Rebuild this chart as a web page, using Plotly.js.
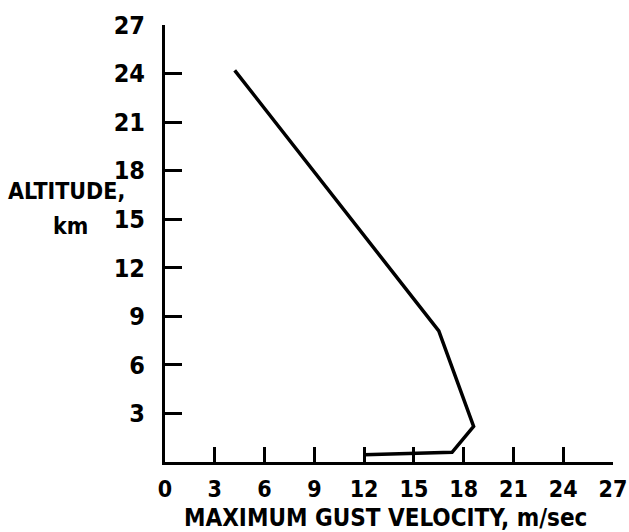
<!DOCTYPE html>
<html>
<head>
<meta charset="utf-8">
<script src="https://cdn.plot.ly/plotly-3.0.1.min.js"></script>
<style>html,body{margin:0;padding:0;background:#fff;}#chart{width:629px;height:532px;}</style>
</head>
<body>
<div id="chart"></div>
<script>
// Data
var gustVelocity = [4.2, 16.5, 18.6, 17.3, 12.0];   // m/sec
var altitude     = [24.2, 8.1, 2.2, 0.6, 0.45];      // km
var xTicks = [0, 3, 6, 9, 12, 15, 18, 21, 24, 27];
var yTicks = [3, 6, 9, 12, 15, 18, 21, 24, 27];

var fontFam = '"DejaVu Sans Condensed", "Liberation Sans Narrow", sans-serif';
var txtFont = function (s) { return {family: fontFam, size: s, color: '#000', weight: 'bold'}; };

var trace = {
  x: gustVelocity,
  y: altitude,
  mode: 'lines',
  line: {color: '#000', width: 3.5},
  hoverinfo: 'none',
  showlegend: false
};

var layout = {
  width: 629, height: 532,
  margin: {l: 165, r: 16, t: 25, b: 70},
  paper_bgcolor: '#fff', plot_bgcolor: '#fff',
  font: {family: fontFam, color: '#000', size: 23},
  xaxis: {
    range: [0, 27], showgrid: false, zeroline: false,
    showline: true, linecolor: '#000', linewidth: 3,
    ticks: 'inside', ticklen: 15, tickwidth: 3, tickcolor: '#000',
    tickvals: xTicks, ticktext: xTicks.map(String),
    tickfont: txtFont(23),
    ticklabelstandoff: 4,
    fixedrange: true
  },
  yaxis: {
    range: [0, 27], showgrid: false, zeroline: false,
    showline: true, linecolor: '#000', linewidth: 3,
    ticks: 'inside', ticklen: 17, tickwidth: 3, tickcolor: '#000',
    tickvals: yTicks, ticktext: yTicks.map(String),
    tickfont: txtFont(25),
    ticklabelstandoff: 12,
    fixedrange: true
  },
  annotations: [
    {text: 'ALTITUDE,', xref: 'paper', yref: 'paper', x: -0.219, y: (462 - 191) / 437,
     xanchor: 'center', yanchor: 'middle', showarrow: false, font: txtFont(23)},
    {text: 'km', xref: 'paper', yref: 'paper', x: -0.212, y: (462 - 226) / 437,
     xanchor: 'center', yanchor: 'middle', showarrow: false, font: txtFont(23)},
    {text: 'MAXIMUM GUST VELOCITY, m/sec', xref: 'paper', yref: 'paper', x: 0.493, y: (462 - 518) / 437,
     xanchor: 'center', yanchor: 'middle', showarrow: false, font: txtFont(24)}
  ]
};

Plotly.newPlot('chart', [trace], layout, {staticPlot: true, displayModeBar: false});
</script>
</body>
</html>
